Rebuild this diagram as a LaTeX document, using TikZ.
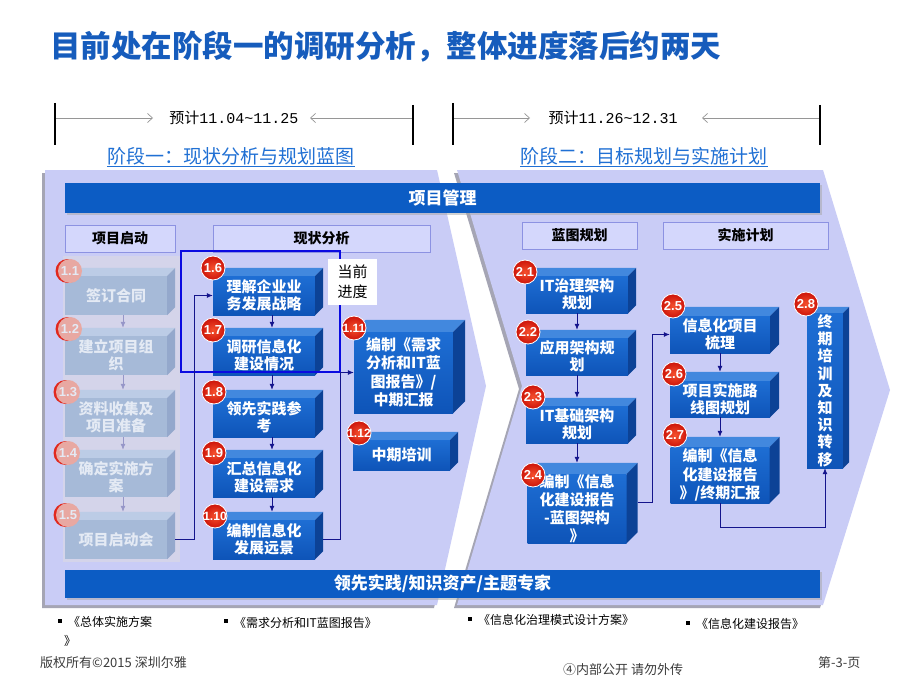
\documentclass[tikz,border=0pt]{standalone}
\usepackage{fontspec}
\setmainfont{Noto Sans CJK SC}
\newfontfamily\latinsans{Liberation Sans}
\newfontfamily\monofont{Liberation Mono}
\usetikzlibrary{arrows.meta,calc,shadows}
\definecolor{titleblue}{RGB}{22,92,188}
\definecolor{phaseblue}{RGB}{32,112,212}
\definecolor{panelfill}{RGB}{201,204,246}
\definecolor{panelshadow}{RGB}{165,165,180}
\definecolor{barblue}{RGB}{12,92,196}
\definecolor{hdrfill}{RGB}{212,215,252}
\definecolor{hdrline}{RGB}{140,146,226}
\definecolor{boxtopc}{RGB}{30,110,212}
\definecolor{boxbotc}{RGB}{14,84,184}
\definecolor{boxtop}{RGB}{66,136,222}
\definecolor{boxside}{RGB}{12,66,150}
\definecolor{fadefront}{RGB}{166,186,216}
\definecolor{fadetop}{RGB}{188,204,230}
\definecolor{fadeside}{RGB}{148,168,204}
\definecolor{fadetext}{RGB}{228,234,244}
\definecolor{fadebg}{RGB}{212,212,234}
\definecolor{fadearrow}{RGB}{150,150,200}
\definecolor{fadered}{RGB}{232,168,162}
\definecolor{fadeedge}{RGB}{225,40,30}
\definecolor{badgein}{RGB}{245,80,45}
\definecolor{badgeout}{RGB}{205,20,10}
\definecolor{navy}{RGB}{20,20,140}
\definecolor{progress}{RGB}{10,10,225}
\definecolor{tlgray}{RGB}{150,150,150}
\definecolor{foot}{RGB}{60,60,60}
\newcommand\boxfaces[4]{%
  \fill[#3] (#1.north west) -- ++(#2,-#2) -- ($(#1.north east)+(#2,-#2)$) -- (#1.north east) -- cycle;
  \fill[#4] (#1.north east) -- ++(#2,-#2) -- ($(#1.south east)+(#2,-#2)$) -- (#1.south east) -- cycle;}
\tikzset{
  bx/.style={rectangle, top color=boxtopc, bottom color=boxbotc, text=white, font=\bfseries\fontsize{15}{17}\selectfont, align=center, inner sep=0pt},
  fbx/.style={rectangle, fill=fadefront, text=fadetext, font=\bfseries\fontsize{15}{17}\selectfont, align=center, inner sep=0pt},
  badge/.style={circle, minimum size=24pt, inner sep=0pt, inner color=badgein, outer color=badgeout, draw=white, line width=0.8pt, text=white, font=\latinsans\bfseries\fontsize{13}{13}\selectfont},
  fbadge/.style={circle, minimum size=24pt, inner sep=0pt, fill=fadered, text=fadetext, font=\latinsans\bfseries\fontsize{13}{13}\selectfont},
  hdr/.style={rectangle, fill=hdrfill, draw=hdrline, line width=0.6pt, font=\bfseries\fontsize{14}{14}\selectfont, text=black, minimum height=27pt},
  bar/.style={rectangle, fill=barblue, text=white, font=\bfseries\fontsize{17}{17}\selectfont, minimum width=755pt, drop shadow={shadow xshift=2pt,shadow yshift=-2pt,fill=black!35}},
  conn/.style={navy, line width=0.8pt, -{Latex[length=6pt,width=5pt]}},
  fconn/.style={fadearrow, line width=0.8pt, -{Latex[length=6pt,width=5pt]}},
  tl/.style={tlgray, line width=0.7pt, -{Straight Barb[length=5pt,width=9pt]}},
  bul/.style={anchor=west, inner sep=0pt, font=\fontsize{12}{12}\selectfont, text=black},
  ft/.style={anchor=west, inner sep=0pt, font=\fontsize{13}{13}\selectfont, text=foot},
}
\begin{document}
\begin{tikzpicture}[x=1pt,y=-1pt]
\useasboundingbox[fill=white] (0,0) rectangle (920,690);

% title
\node[anchor=west, text=titleblue, font=\bfseries\fontsize{30.5}{30.5}\selectfont, inner sep=0pt] (title) at (50,47) {目前处在阶段一的调研分析，整体进度落后约两天};

% timelines
\draw[line width=2.5pt] (55,103) -- (55,145);
\draw[line width=2.5pt] (413,105) -- (413,145);
\draw[line width=2.5pt] (453,103) -- (453,145);
\draw[line width=2.5pt] (820,105) -- (820,145);
\coordinate (L1) at (56,118); \coordinate (A1) at (153,118);
\coordinate (R1) at (412,118); \coordinate (A2) at (310,118);
\coordinate (L2) at (454,118); \coordinate (A3) at (530,118);
\coordinate (R2) at (819,118); \coordinate (A4) at (702,118);
\node[font=\fontsize{15}{15}\selectfont, inner sep=0pt] (t1) at (234,118) {预计{\monofont 11.04\textasciitilde 11.25}};
\node[font=\fontsize{15}{15}\selectfont, inner sep=0pt] (t2) at (613,118) {预计{\monofont 11.26\textasciitilde 12.31}};
\draw[tl] (L1) -- (A1);
\draw[tl] (R1) -- (A2);
\draw[tl] (L2) -- (A3);
\draw[tl] (R2) -- (A4);

% phase titles
\node[text=phaseblue, font=\fontsize{19}{19}\selectfont, inner sep=0pt] (p1) at (231,156) {阶段一：现状分析与规划蓝图};
\node[text=phaseblue, font=\fontsize{19}{19}\selectfont, inner sep=0pt] (p2) at (644,156) {阶段二：目标规划与实施计划};
\draw[phaseblue, line width=0.9pt] ([yshift=-1pt]p1.south west) -- ([yshift=-1pt]p1.south east);
\draw[phaseblue, line width=0.9pt] ([yshift=-1pt]p2.south west) -- ([yshift=-1pt]p2.south east);

% panels
\fill[panelshadow, xshift=-3pt, yshift=-3pt] (45,170) -- (437,170) -- (486,386) -- (437,605) -- (45,605) -- cycle;
\fill[panelfill] (45,170) -- (437,170) -- (486,386) -- (437,605) -- (45,605) -- cycle;
\fill[panelshadow, xshift=-3pt, yshift=-3pt] (457,170) -- (823,170) -- (890,390) -- (823,605) -- (457,605) -- (522,386) -- cycle;
\fill[panelfill] (457,170) -- (823,170) -- (890,390) -- (823,605) -- (457,605) -- (522,386) -- cycle;

% bars
\node[bar, minimum height=30pt] (pm) at (442.5,198) {项目管理};
\node[bar, minimum height=28pt] (lx) at (442.5,584) {领先实践/知识资产/主题专家};

% headers
\node[hdr, minimum width=110pt] (h1) at (120,238.5) {项目启动};
\node[hdr, minimum width=217pt] (h2) at (321.5,238.5) {现状分析};
\node[hdr, minimum width=115pt] (h3) at (579.5,235.5) {蓝图规划};
\node[hdr, minimum width=165pt] (h4) at (745.5,235.5) {实施计划};

% faded column
\fill[fadebg] (63,256) rectangle (180,562);
\node[fbx, minimum width=102pt, minimum height=39pt] (n11) at (116,295.5) {签订合同};
\node[fbx, minimum width=102pt, minimum height=39pt] (n12) at (116,355.5) {建立项目组\\织};
\node[fbx, minimum width=102pt, minimum height=39pt] (n13) at (116,417.5) {资料收集及\\项目准备};
\node[fbx, minimum width=102pt, minimum height=39pt] (n14) at (116,477.5) {确定实施方\\案};
\node[fbx, minimum width=102pt, minimum height=39pt] (n15) at (116,539.5) {项目启动会};
\boxfaces{n11}{8}{fadetop}{fadeside}
\boxfaces{n12}{8}{fadetop}{fadeside}
\boxfaces{n13}{8}{fadetop}{fadeside}
\boxfaces{n14}{8}{fadetop}{fadeside}
\boxfaces{n15}{8}{fadetop}{fadeside}

% middle column
\node[bx, minimum width=102pt, minimum height=39pt] (n16) at (264,295.5) {理解企业业\\务发展战略};
\node[bx, minimum width=102pt, minimum height=39pt] (n17) at (264,355.5) {调研信息化\\建设情况};
\node[bx, minimum width=102pt, minimum height=39pt] (n18) at (264,417.5) {领先实践参\\考};
\node[bx, minimum width=102pt, minimum height=39pt] (n19) at (264,477.5) {汇总信息化\\建设需求};
\node[bx, minimum width=102pt, minimum height=39pt] (n110) at (264,539.5) {编制信息化\\发展远景};
\boxfaces{n16}{8}{boxtop}{boxside}
\boxfaces{n17}{8}{boxtop}{boxside}
\boxfaces{n18}{8}{boxtop}{boxside}
\boxfaces{n19}{8}{boxtop}{boxside}
\boxfaces{n110}{8}{boxtop}{boxside}

\node[bx, minimum width=99pt, minimum height=81pt, font=\bfseries\fontsize{15}{18.5}\selectfont] (n111) at (403.5,372.5) {编制《需求\\分析和IT蓝\\图报告》/\\中期汇报};
\node[bx, minimum width=97pt, minimum height=30pt] (n112) at (401.5,455) {中期培训};
\boxfaces{n111}{12}{boxtop}{boxside}
\boxfaces{n112}{8}{boxtop}{boxside}

% right panel boxes
\node[bx, minimum width=102pt, minimum height=37pt] (n21) at (577,294.5) {IT治理架构\\规划};
\node[bx, minimum width=102pt, minimum height=37pt] (n22) at (577,356.5) {应用架构规\\划};
\node[bx, minimum width=102pt, minimum height=37pt] (n23) at (577,424.5) {IT基础架构\\规划};
\node[bx, minimum width=99pt, minimum height=69pt, font=\bfseries\fontsize{15}{18}\selectfont] (n24) at (577,508.5) {编制《信息\\化建设报告\\-蓝图架构\\》};
\boxfaces{n21}{8}{boxtop}{boxside}
\boxfaces{n22}{8}{boxtop}{boxside}
\boxfaces{n23}{8}{boxtop}{boxside}
\boxfaces{n24}{11}{boxtop}{boxside}

\node[bx, minimum width=100pt, minimum height=37pt] (n25) at (720,334.5) {信息化项目\\梳理};
\node[bx, minimum width=100pt, minimum height=36pt] (n26) at (720,399) {项目实施路\\线图规划};
\node[bx, minimum width=99pt, minimum height=56pt, font=\bfseries\fontsize{15}{18.5}\selectfont] (n27) at (720,475) {编制《信息\\化建设报告\\》/终期汇报};
\node[bx, minimum width=36pt, minimum height=155pt, font=\bfseries\fontsize{15}{17.2}\selectfont] (n28) at (825,390.5) {终\\期\\培\\训\\及\\知\\识\\转\\移};
\boxfaces{n25}{9}{boxtop}{boxside}
\boxfaces{n26}{9}{boxtop}{boxside}
\boxfaces{n27}{10}{boxtop}{boxside}
\boxfaces{n28}{6}{boxtop}{boxside}

% progress frame
\draw[progress, line width=2.5pt] (181,251) rectangle (340,372);
\node[fill=white, minimum width=49pt, minimum height=46pt, align=center, inner sep=0pt, font=\fontsize{15}{20}\selectfont] (cur) at (352.5,282) {当前\\进度};

% connectors
\draw[fconn] ([xshift=7pt]n11.south) -- ([xshift=7pt,yshift=8pt]n12.north);
\draw[fconn] ([xshift=7pt]n12.south) -- ([xshift=7pt,yshift=8pt]n13.north);
\draw[fconn] ([xshift=7pt]n13.south) -- ([xshift=7pt,yshift=8pt]n14.north);
\draw[fconn] ([xshift=7pt]n14.south) -- ([xshift=7pt,yshift=8pt]n15.north);
\draw[conn] ([xshift=8pt]n16.south) -- ([xshift=8pt,yshift=8pt]n17.north);
\draw[conn] ([xshift=8pt]n17.south) -- ([xshift=8pt,yshift=8pt]n18.north);
\draw[conn] ([xshift=8pt]n18.south) -- ([xshift=8pt,yshift=8pt]n19.north);
\draw[conn] ([xshift=8pt]n19.south) -- ([xshift=8pt,yshift=8pt]n110.north);
\draw[conn] ([xshift=8pt]n15.east) -- ++(19,0) |- (n16.west);
\draw[conn] ([xshift=8pt]n110.east) -- ++(17,0) |- (n111.west);
\draw[conn] (n21.south) -- ([yshift=8pt]n22.north);
\draw[conn] (n22.south) -- ([yshift=8pt]n23.north);
\draw[conn] (n23.south) -- ([yshift=11pt]n24.north);
\draw[conn] ([xshift=11pt,yshift=6pt]n24.east) -- ++(15,0) |- (n25.west);
\draw[conn] (n25.south) -- ([yshift=9pt]n26.north);
\draw[conn] (n26.south) -- ([yshift=10pt]n27.north);
\draw[conn] (n27.south) -- ++(0,24) -| (n28.south);

% badges
\fill[fadeedge] (67.5,271) circle (12);
\node[fbadge] (b11) at (70,271) {1.1};
\fill[fadeedge] (67.5,329) circle (12);
\node[fbadge] (b12) at (70,329) {1.2};
\fill[fadeedge] (65.5,392) circle (12);
\node[fbadge] (b13) at (68,392) {1.3};
\fill[fadeedge] (65.5,453) circle (12);
\node[fbadge] (b14) at (68,453) {1.4};
\fill[fadeedge] (65.5,515) circle (12);
\node[fbadge] (b15) at (68,515) {1.5};
\node[badge] (b16) at (213,268) {1.6};
\node[badge] (b17) at (213,330) {1.7};
\node[badge] (b18) at (214,392) {1.8};
\node[badge] (b19) at (214,453) {1.9};
\node[badge] (b110) at (215,516) {\makebox[0pt]{\fontsize{12}{12}\selectfont 1.10}};
\node[badge] (b111) at (354,328) {\makebox[0pt]{\fontsize{12}{12}\selectfont 1.11}};
\node[badge] (b112) at (359,433) {\makebox[0pt]{\fontsize{12}{12}\selectfont 1.12}};
\node[badge] (b21) at (525,272) {2.1};
\node[badge] (b22) at (528,332) {2.2};
\node[badge] (b23) at (533,397) {2.3};
\node[badge] (b24) at (533,475) {2.4};
\node[badge] (b25) at (673,306) {2.5};
\node[badge] (b26) at (674,374) {2.6};
\node[badge] (b27) at (675,435) {2.7};
\node[badge] (b28) at (806,304) {2.8};

% deliverables
\fill (58,619) rectangle (62,623);
\node[bul] (d1) at (68,622) {《总体实施方案};
\node[bul] (d1b) at (64,641) {》};
\fill (224,619) rectangle (228,623);
\node[bul] (d2) at (234,623) {《需求分析和IT蓝图报告》};
\fill (468,617) rectangle (472,621);
\node[bul] (d3) at (478,620) {《信息化治理模式设计方案》};
\fill (686,621) rectangle (690,625);
\node[bul] (d4) at (696,624) {《信息化建设报告》};

% footer
\node[ft] (f1) at (40,663) {版权所有©2015 深圳尔雅};
\node[ft] (f2) at (563,670) {④内部公开 请勿外传};
\node[ft] (f3) at (818,663) {第-3-页};
\end{tikzpicture}
\end{document}
